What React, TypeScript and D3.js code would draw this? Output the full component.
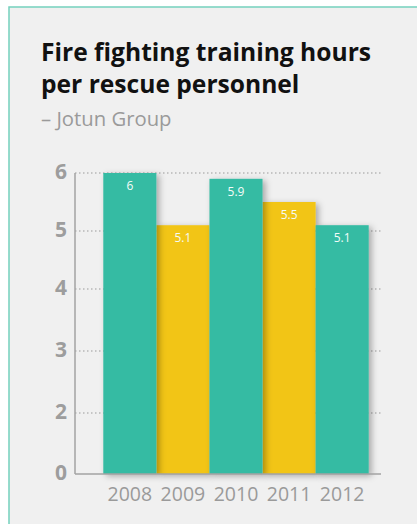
import React from "react";
import * as d3 from "d3";

const years = ["2008", "2009", "2010", "2011", "2012"];
const values = [6, 5.1, 5.9, 5.5, 5.1];
const valueLabels = ["6", "5.1", "5.9", "5.5", "5.1"];
const barColors = ["#36bba3", "#f2c518", "#36bba3", "#f2c518", "#36bba3"];
const yTicks = [0, 2, 3, 4, 5, 6];
const title = ["Fire fighting training hours", "per rescue personnel"];
const subtitle = "– Jotun Group";

const W = 417;
const H = 524;

export default function App() {
  const x = d3.scaleBand<string>().domain(years).range([103.3, 368.7]).padding(0);
  // the original axis is broken: 0→2 takes the same space as one unit
  const y = d3.scaleLinear().domain([0, 2, 3, 4, 5, 6]).range([474, 413, 351, 289, 231, 173]);
  const font = "'Open Sans', 'Noto Sans', sans-serif";
  const order = [1, 3, 0, 2, 4];
  return (
    <svg width={W} height={H} style={{ position: "absolute", left: 0, top: 0 }}>
      <defs>
        <filter id="sh" x="-20%" y="-10%" width="150%" height="120%">
          <feDropShadow dx="3" dy="2" stdDeviation="3" floodColor="#000" floodOpacity="0.3" />
        </filter>
      </defs>
      <rect x={0} y={0} width={W} height={H} fill="#ffffff" />
      <rect x={9} y={7} width={W + 10} height={H + 10} fill="#f0f0f0" stroke="#74d1bd" strokeWidth={1.5} />
      {title.map((t, i) => (
        <text key={i} x={41} y={61 + i * 32} fontFamily={font} fontWeight={700} fontSize={24.6} fill="#111">
          {t}
        </text>
      ))}
      <text x={41} y={126} fontFamily={font} fontSize={20.3} fill="#9a9a9a">
        {subtitle}
      </text>
      {yTicks.filter((t) => t > 0).map((t) => (
        <line key={t} x1={75} x2={381} y1={y(t)} y2={y(t)} stroke="#9a9a9a" strokeWidth={1} strokeDasharray="1.5,2.5" />
      ))}
      {order.map((i) => (
        <rect
          key={years[i]}
          x={x(years[i])!}
          y={y(values[i])}
          width={x.bandwidth()}
          height={y(0) - y(values[i])}
          fill={barColors[i]}
          filter="url(#sh)"
        />
      ))}
      {years.map((yr, i) => (
        <text
          key={yr}
          x={x(yr)! + x.bandwidth() / 2}
          y={y(values[i]) + 17}
          textAnchor="middle"
          fontFamily={font}
          fontSize={12}
          fill="#f4fbf8"
        >
          {valueLabels[i]}
        </text>
      ))}
      <line x1={75} x2={75} y1={173} y2={474} stroke="#a3a3a3" strokeWidth={1.5} />
      <line x1={75} x2={381} y1={474} y2={474} stroke="#a3a3a3" strokeWidth={1.5} />
      {yTicks.map((t) => (
        <text
          key={t}
          x={67}
          y={y(t) - 1.5}
          dy="0.35em"
          textAnchor="end"
          fontFamily={font}
          fontWeight={700}
          fontSize={21}
          fill="#9d9d9d"
        >
          {t}
        </text>
      ))}
      {years.map((yr) => (
        <text
          key={yr}
          x={x(yr)! + x.bandwidth() / 2}
          y={501}
          textAnchor="middle"
          fontFamily={font}
          fontSize={19.5}
          fill="#9a9a9a"
        >
          {yr}
        </text>
      ))}
    </svg>
  );
}
